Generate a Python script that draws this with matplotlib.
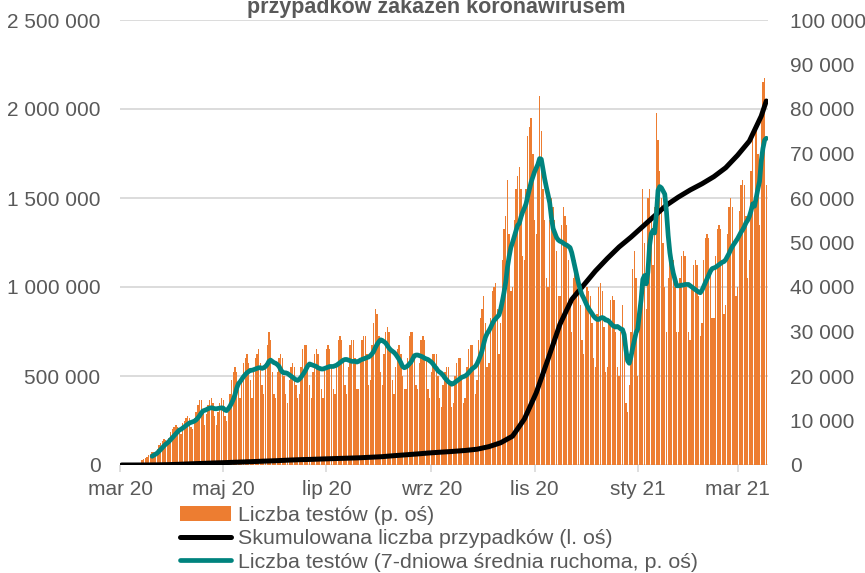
import numpy as np
import pandas as pd
import matplotlib
matplotlib.use("Agg")
import matplotlib.pyplot as plt
import matplotlib.dates as mdates
from matplotlib.lines import Line2D
from matplotlib.patches import Patch
from matplotlib.ticker import FuncFormatter

plt.rcParams['font.family'] = ['Liberation Sans', 'DejaVu Sans']

# daily tests (thousands), from 2020-03-14, one row per week (Mon..Sun)
tests_start = "2020-03-14"
tests_k = [
    1.2, 1.4,
    1.6, 1.9, 2.2, 2.5, 2.9, 3.0, 2.8,
    3.5, 4.5, 5.0, 5.5, 5.8, 5.6, 4.8,
    6.0, 7.5, 8.0, 8.5, 9.0, 8.5, 7.5,
    7.0, 9.5, 10.0, 10.5, 11.0, 10.5, 8.5,
    8.0, 10.5, 12.0, 13.5, 14.5, 14.5, 12.0,
    9.0, 11.5, 13.5, 14.5, 15.0, 14.0, 11.0,
    9.0, 12.0, 14.0, 15.0, 14.5, 11.0, 10.0,
    12, 16, 19, 21, 22, 21, 17,
    15, 20, 23, 24, 25, 23, 19,
    15, 21, 24, 25, 26, 23, 18,
    16, 23, 27, 30, 28, 21, 16,
    15, 21, 24, 25, 24, 20, 16,
    14, 19, 22, 23, 22, 18, 15,
    16, 22, 26, 27, 27, 23, 18,
    15, 21, 25, 26, 25, 22, 17,
    15, 22, 26, 27, 26, 22, 17,
    16, 23, 28, 29, 28, 24, 18,
    16, 22, 27, 28, 28, 24, 17,
    17, 24, 28, 29, 29, 25, 18,
    19, 27, 32, 35, 34, 29, 21,
    18, 25, 30, 31, 30, 26, 19,
    16, 22, 26, 27, 25, 20, 17,
    17, 24, 29, 30, 30, 25, 18,
    17, 23, 28, 29, 28, 24, 17,
    15, 21, 25, 25, 25, 20, 15,
    13, 18, 21, 22, 22, 18, 13,
    14, 20, 23, 24, 24, 20, 14,
    15, 22, 26, 27, 27, 22, 16,
    19, 28, 33, 35, 38, 32, 22,
    23, 33, 39, 40, 41, 35, 25,
    32, 46, 53, 56, 64, 52, 39,
    40, 55, 62, 65, 67, 62, 47,
    46, 62, 74, 76, 78, 70, 55,
    52, 68, 83, 75, 62, 55, 42,
    40, 55, 60, 58, 55, 48, 38,
    38, 54, 58, 56, 54, 46, 36,
    30, 42, 46, 44, 42, 36, 28,
    25, 36, 40, 39, 38, 32, 24,
    22, 34, 40, 41, 39, 31, 21,
    22, 32, 37, 38, 37, 30, 22,
    20, 30, 36, 30, 14, 12, 18,
    30, 44, 48, 42, 20, 36, 40,
    62, 50, 35, 60, 62, 55, 45,
    58, 79, 73, 66, 60, 50, 40,
    30, 42, 46, 48, 46, 40, 30,
    30, 42, 47, 48, 47, 40, 30,
    28, 40, 45, 46, 45, 38, 29,
    32, 46, 51, 52, 51, 44, 33,
    33, 47, 53, 54, 53, 46, 34,
    36, 52, 58, 60, 58, 50, 38,
    40, 57, 63, 64, 63, 56, 42,
    46, 66, 74, 60, 76, 70, 54,
    78, 86, 87, 63,
]

# cumulative cases, every Monday from 2020-03-02, plus last day
cases_dates = list(pd.date_range("2020-03-02", "2021-03-15", freq="7D")) + [pd.Timestamp("2021-03-18")]
cases = [0, 17, 177, 749, 2055, 4413, 6934, 9453, 11902, 14006,
         16326, 18885, 21631, 23987, 27160, 29788, 31620, 33907, 36155, 38190,
         40383, 43402, 46894, 52410, 57279, 62310, 67922, 72294, 76571, 81673,
         88636, 103000, 125000, 162000, 258000, 405000, 595000, 790000, 930000, 1010000,
         1090000, 1160000, 1225000, 1280000, 1340000, 1400000, 1460000, 1505000, 1545000, 1580000,
         1620000, 1670000, 1740000, 1820000, 1960000, 2045000]

months_pl = {1: "sty", 2: "lut", 3: "mar", 4: "kwi", 5: "maj", 6: "cze",
             7: "lip", 8: "sie", 9: "wrz", 10: "paź", 11: "lis", 12: "gru"}

tests = pd.Series(np.array(tests_k) * 1000,
                  index=pd.date_range(tests_start, periods=len(tests_k), freq="D"))
tests_ma = tests.rolling(7).mean()

ORANGE = "#ED7D31"
TEAL = "#00837E"
GREY = "#595959"
GRID = "#D9D9D9"

fig = plt.figure(figsize=(8.65, 5.73), dpi=100)
ax_r = fig.add_axes([120 / 865, 1 - 465 / 573, 648 / 865, 445 / 573])
ax_l = ax_r.twinx()
ax_t = ax_r.twinx()

ax_r.bar(tests.index, tests.values, width=0.8, color=ORANGE, linewidth=0, zorder=2)
for v in np.arange(0, 100001, 20000):
    ax_r.axhline(v, color=GRID, lw=1.3, zorder=1)

ax_l.plot(cases_dates, cases, color="black", lw=3.6, solid_capstyle="round")
ax_t.plot(tests_ma.index, tests_ma.values, color=TEAL, lw=3.4, solid_capstyle="round")

ax_r.set_ylim(0, 100000)
ax_t.set_ylim(0, 100000)
ax_l.set_ylim(0, 2500000)
ax_r.set_xlim(pd.Timestamp("2020-03-01"), pd.Timestamp("2021-03-19"))

fmt = FuncFormatter(lambda v, p: f"{int(v):,}".replace(",", " "))

# right axis: tests
ax_r.yaxis.tick_right()
ax_r.set_yticks(np.arange(0, 100001, 10000))
ax_r.yaxis.set_major_formatter(fmt)
ax_r.tick_params(axis="y", length=0, pad=16, labelsize=15, labelcolor=GREY)

# left axis: cumulative cases
ax_l.yaxis.tick_left()
ax_l.set_yticks(np.arange(0, 2500001, 500000))
ax_l.yaxis.set_major_formatter(fmt)
ax_l.tick_params(axis="y", length=0, pad=14, labelsize=15, labelcolor=GREY)

ax_t.set_yticks([])

ax_r.xaxis.set_major_locator(mdates.MonthLocator(bymonth=[1, 3, 5, 7, 9, 11]))
ax_r.xaxis.set_major_formatter(FuncFormatter(
    lambda v, p: f"{months_pl[mdates.num2date(v).month]} {mdates.num2date(v).year % 100}"))
ax_r.tick_params(axis="x", length=5, width=1.2, color=GRID, pad=6,
                 labelsize=15, labelcolor=GREY)

for a in (ax_r, ax_l, ax_t):
    for s in a.spines.values():
        s.set_visible(False)
    a.patch.set_visible(False)

fig.text(436 / 865, 1 - 13 / 573, "przypadków zakażeń koronawirusem",
         ha="center", va="baseline", fontsize=15.5, fontweight="bold", color=GREY)

handles = [Patch(facecolor=ORANGE, edgecolor="none"),
           Line2D([], [], color="black", lw=3.6, solid_capstyle="round"),
           Line2D([], [], color=TEAL, lw=3.4, solid_capstyle="round")]
labels = ["Liczba testów (p. oś)",
          "Skumulowana liczba przypadków (l. oś)",
          "Liczba testów (7-dniowa średnia ruchoma, p. oś)"]
leg = fig.legend(handles, labels, loc="upper left", bbox_to_anchor=(180 / 865, 1 - 506 / 573),
                 frameon=False, fontsize=15.4, handlelength=2.4, handletextpad=0.3,
                 labelspacing=0.2, borderpad=0, borderaxespad=0)
for t in leg.get_texts():
    t.set_color(GREY)

fig.savefig("out.png", dpi=100)
